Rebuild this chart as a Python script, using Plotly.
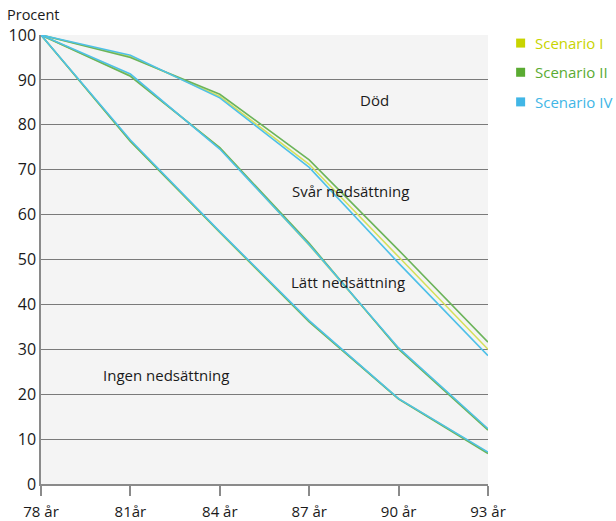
import plotly.graph_objects as go

# Ages (x categories) and their tick labels
ages = [78, 81, 84, 87, 90, 93]
age_labels = ["78 år", "81år", "84 år", "87 år", "90 år", "93 år"]

scenarios = ["Scenario I", "Scenario II", "Scenario IV"]
colors = {"Scenario I": "#c8d400", "Scenario II": "#5aab32", "Scenario IV": "#41b6e6"}
line_colors = {"Scenario I": "#d5e05a", "Scenario II": "#6cb45a", "Scenario IV": "#4ec0e8"}

# Share alive with at most the given level of impairment (percent)
# Upper boundary: alive (above = Död)
alive_I = [100, 95.2, 86.3, 71.2, 50.6, 30.0]
alive_II = [100, 95.0, 86.8, 72.2, 52.1, 31.6]
alive_IV = [100, 95.5, 86.0, 70.5, 49.2, 28.6]

# Middle boundary: no or light impairment
light_I = [100, 91.0, 74.8, 53.2, 30.2, 12.2]
light_II = [100, 90.8, 74.9, 53.6, 30.0, 12.0]
light_IV = [100, 91.3, 74.6, 53.3, 30.3, 12.3]

# Lower boundary: no impairment
none_I = [100, 76.4, 56.0, 36.2, 19.0, 7.0]
none_II = [100, 76.3, 56.1, 36.1, 18.9, 6.8]
none_IV = [100, 76.6, 56.2, 36.4, 19.0, 7.1]

series = {
    "Scenario I": [alive_I, light_I, none_I],
    "Scenario II": [alive_II, light_II, none_II],
    "Scenario IV": [alive_IV, light_IV, none_IV],
}

# Region labels: (text, x in age units, y in percent)
region_labels = [
    ("Död", 89.2, 85.5),
    ("Svår nedsättning", 88.4, 65.3),
    ("Lätt nedsättning", 88.3, 45.0),
    ("Ingen nedsättning", 82.2, 24.3),
]

font_family = "Open Sans, Lato, DejaVu Sans, sans-serif"

fig = go.Figure()

for sc in scenarios:
    for vals in series[sc]:
        fig.add_trace(go.Scatter(
            x=ages, y=vals, mode="lines",
            line=dict(color=line_colors[sc], width=1.6),
            showlegend=False, hoverinfo="skip",
        ))

# Legend: coloured squares with coloured scenario names, right of the plot
legend_y = [0.982, 0.917, 0.851]
for sc, ly in zip(scenarios, legend_y):
    fig.add_shape(type="rect", xref="paper", yref="paper",
                  xsizemode="pixel", ysizemode="pixel",
                  xanchor=1.073, yanchor=ly,
                  x0=-4.5, x1=4.5, y0=-4.5, y1=4.5,
                  fillcolor=colors[sc], line=dict(width=0))
    fig.add_annotation(x=1.100, y=ly, xref="paper", yref="paper",
                       text=sc, showarrow=False,
                       xanchor="left", yanchor="middle",
                       font=dict(size=15, color=colors[sc], family=font_family))

for text, x, y in region_labels:
    fig.add_annotation(x=x, y=y, text=text, showarrow=False,
                       font=dict(size=15, color="#1a1a1a", family=font_family),
                       xanchor="center", yanchor="middle")

fig.add_annotation(x=0, y=1, xref="paper", yref="paper", text="Procent",
                   showarrow=False, xanchor="left", yanchor="bottom",
                   xshift=-36, yshift=9,
                   font=dict(size=14.5, color="#1a1a1a", family=font_family))

fig.update_layout(
    width=616, height=521,
    margin=dict(l=41, r=128, t=35, b=37),
    paper_bgcolor="white",
    plot_bgcolor="#f4f4f4",
    font=dict(family=font_family, size=15, color="#1a1a1a"),
    showlegend=False,
)

fig.update_xaxes(
    range=[78, 93], tickvals=ages, ticktext=age_labels,
    showgrid=False, zeroline=False, automargin=False,
    showline=True, linecolor="#8a8a8a", linewidth=1.5,
    ticks="outside", ticklen=10, tickcolor="#8a8a8a", tickwidth=1.5,
    ticklabelstandoff=3,
    tickfont=dict(size=15),
)
fig.update_yaxes(
    range=[0, 100], dtick=10,
    showgrid=True, gridcolor="#7a7a7a", gridwidth=1,
    zeroline=False, automargin=False,
    showline=True, linecolor="#8a8a8a", linewidth=1.5,
    ticks="", tickfont=dict(size=16),
)

fig.write_html("out.html")
